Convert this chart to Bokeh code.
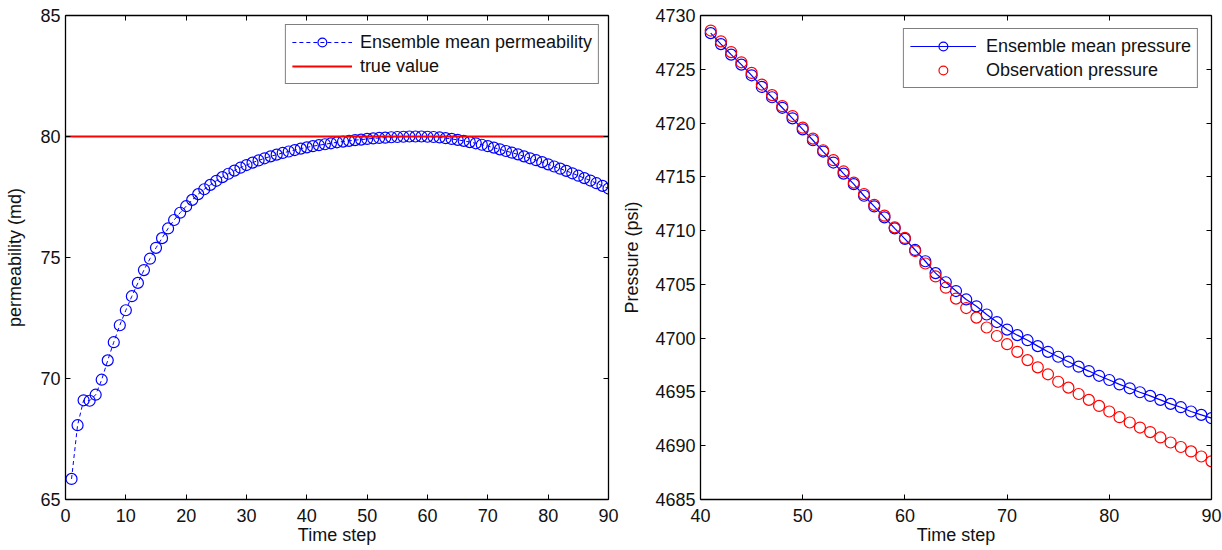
from bokeh.plotting import figure
from bokeh.layouts import row
from bokeh.models import Range1d, LinearAxis, FixedTicker, CustomJSTickFormatter
from bokeh.embed import file_html
from bokeh.resources import INLINE

# ---------------- data ----------------
time_perm = list(range(1, 91))
perm_mean = [
    65.85, 68.07, 69.10, 69.08, 69.33, 69.95, 70.75, 71.50, 72.20, 72.82,
    73.40, 73.95, 74.48, 74.95, 75.40, 75.80, 76.20, 76.55, 76.85, 77.12,
    77.38, 77.62, 77.82, 78.00, 78.17, 78.32, 78.46, 78.59, 78.71, 78.82,
    78.92, 79.01, 79.10, 79.18, 79.25, 79.32, 79.38, 79.44, 79.50, 79.55,
    79.60, 79.64, 79.68, 79.72, 79.76, 79.79, 79.82, 79.85, 79.87, 79.90,
    79.92, 79.94, 79.95, 79.97, 79.98, 79.99, 80.00, 80.00, 80.00, 79.99,
    79.98, 79.96, 79.93, 79.90, 79.86, 79.82, 79.77, 79.72, 79.66, 79.60,
    79.54, 79.47, 79.40, 79.33, 79.26, 79.18, 79.10, 79.02, 78.94, 78.85,
    78.76, 78.67, 78.58, 78.48, 78.38, 78.28, 78.18, 78.07, 77.96, 77.85,
]
true_value = 80

time_pres = list(range(41, 91))
pres_mean = [
    4728.36, 4727.34, 4726.36, 4725.43, 4724.44, 4723.36, 4722.40, 4721.42, 4720.44, 4719.41,
    4718.40, 4717.35, 4716.33, 4715.30, 4714.32, 4713.24, 4712.25, 4711.23, 4710.21, 4709.23,
    4708.20, 4707.15, 4706.05, 4705.20, 4704.38, 4703.60, 4702.96, 4702.20, 4701.50, 4700.80,
    4700.28, 4699.81, 4699.26, 4698.73, 4698.27, 4697.81, 4697.35, 4696.94, 4696.50, 4696.11,
    4695.70, 4695.34, 4694.97, 4694.63, 4694.26, 4693.89, 4693.58, 4693.18, 4692.87, 4692.56,
]
pres_obs = [
    4728.60, 4727.60, 4726.60, 4725.65, 4724.66, 4723.58, 4722.60, 4721.57, 4720.65, 4719.57,
    4718.55, 4717.47, 4716.55, 4715.50, 4714.47, 4713.40, 4712.40, 4711.39, 4710.30, 4709.32,
    4708.10, 4706.94, 4705.74, 4704.69, 4703.68, 4702.80, 4701.91, 4700.99, 4700.20, 4699.44,
    4698.73, 4697.96, 4697.29, 4696.64, 4695.95, 4695.40, 4694.81, 4694.26, 4693.70, 4693.18,
    4692.65, 4692.16, 4691.69, 4691.27, 4690.77, 4690.30, 4689.88, 4689.47, 4689.00, 4688.55,
]

perm_xticks = [0, 10, 20, 30, 40, 50, 60, 70, 80, 90]
perm_yticks = [65, 70, 75, 80, 85]
pres_xticks = [40, 50, 60, 70, 80, 90]
pres_yticks = [4685, 4690, 4695, 4700, 4705, 4710, 4715, 4720, 4725, 4730]

FONT = "Liberation Sans"
BLUE = "#0000ff"
RED = "#ff0000"


def style(p, xticks, yticks, xlabel, ylabel, ylabel_standoff):
    p.grid.visible = False
    p.outline_line_color = None
    p.background_fill_color = "white"
    p.border_fill_color = "white"
    p.xaxis.ticker = FixedTicker(ticks=xticks)
    p.yaxis.ticker = FixedTicker(ticks=yticks)
    p.xaxis.axis_label = xlabel
    p.yaxis.axis_label = ylabel
    for ax in p.xaxis + p.yaxis:
        ax.major_tick_in = 5
        ax.major_tick_out = 0
        ax.minor_tick_line_color = None
        ax.axis_line_color = "black"
        ax.axis_line_width = 1.3
        ax.major_tick_line_color = "black"
        ax.major_label_text_font = FONT
        ax.major_label_text_font_size = "18px"
        ax.major_label_text_color = "#111111"
        ax.axis_label_text_font = FONT
        ax.axis_label_text_font_size = "18px"
        ax.axis_label_text_font_style = "normal"
        ax.axis_label_text_color = "#111111"
    p.xaxis.major_label_standoff = 9
    p.xaxis.axis_label_standoff = 0
    p.yaxis.major_label_standoff = 5
    p.yaxis.axis_label_standoff = ylabel_standoff
    # box: ticks on top and right, no labels
    for place, ticks in (("above", xticks), ("right", yticks)):
        ax = LinearAxis(
            ticker=FixedTicker(ticks=ticks),
            formatter=CustomJSTickFormatter(code="return ''"),
            major_tick_in=5, major_tick_out=0,
            minor_tick_line_color=None,
            axis_line_color="black", axis_line_width=1.3,
            major_label_standoff=0,
            major_label_text_font_size="0px",
        )
        p.add_layout(ax, place)


def style_legend(p, glyph_width, standoff, margin):
    lg = p.legend[0]
    lg.location = "top_right"
    lg.margin = margin
    lg.label_text_font = FONT
    lg.label_text_font_size = "18px"
    lg.label_text_color = "#111111"
    lg.glyph_width = glyph_width
    lg.glyph_height = 22
    lg.label_height = 20
    lg.label_standoff = standoff
    lg.padding = 6
    lg.spacing = 2
    lg.border_line_color = "black"
    lg.border_line_width = 1.2
    lg.background_fill_color = "white"
    lg.background_fill_alpha = 1.0


# ---------------- left: permeability ----------------
p1 = figure(
    width=619, height=550,
    x_range=Range1d(perm_xticks[0], perm_xticks[-1]),
    y_range=Range1d(perm_yticks[0], perm_yticks[-1]),
    output_backend="svg", toolbar_location=None,
    min_border_left=65, min_border_right=11, min_border_top=15, min_border_bottom=51,
)
p1.line(time_perm, perm_mean, line_color=BLUE, line_width=1, line_dash="4 3",
        legend_label="Ensemble mean permeability")
p1.scatter(time_perm, perm_mean, marker="circle", size=11, fill_color=None,
           line_color=BLUE, line_width=1.2, legend_label="Ensemble mean permeability")
p1.line([perm_xticks[0], perm_xticks[-1]], [true_value, true_value], line_color=RED,
        line_width=2, legend_label="true value")
style(p1, perm_xticks, perm_yticks, "Time step", "permeability (md)", 12)
style_legend(p1, 60, 8, 9)

# ---------------- right: pressure ----------------
p2 = figure(
    width=603, height=550,
    x_range=Range1d(pres_xticks[0], pres_xticks[-1]),
    y_range=Range1d(pres_yticks[0], pres_yticks[-1]),
    output_backend="svg", toolbar_location=None,
    min_border_left=78, min_border_right=11, min_border_top=14, min_border_bottom=51,
)
p2.line(time_pres, pres_mean, line_color=BLUE, line_width=1.2,
        legend_label="Ensemble mean pressure")
p2.scatter(time_pres, pres_mean, marker="circle", size=11, fill_color=None,
           line_color=BLUE, line_width=1.2, legend_label="Ensemble mean pressure")
p2.scatter(time_pres, pres_obs, marker="circle", size=11, fill_color=None,
           line_color=RED, line_width=1.2, legend_label="Observation pressure")
style(p2, pres_xticks, pres_yticks, "Time step", "Pressure (psi)", 10)
style_legend(p2, 66, 10, 13)

layout = row(p1, p2)
open("out.html", "w").write(file_html(layout, INLINE))
